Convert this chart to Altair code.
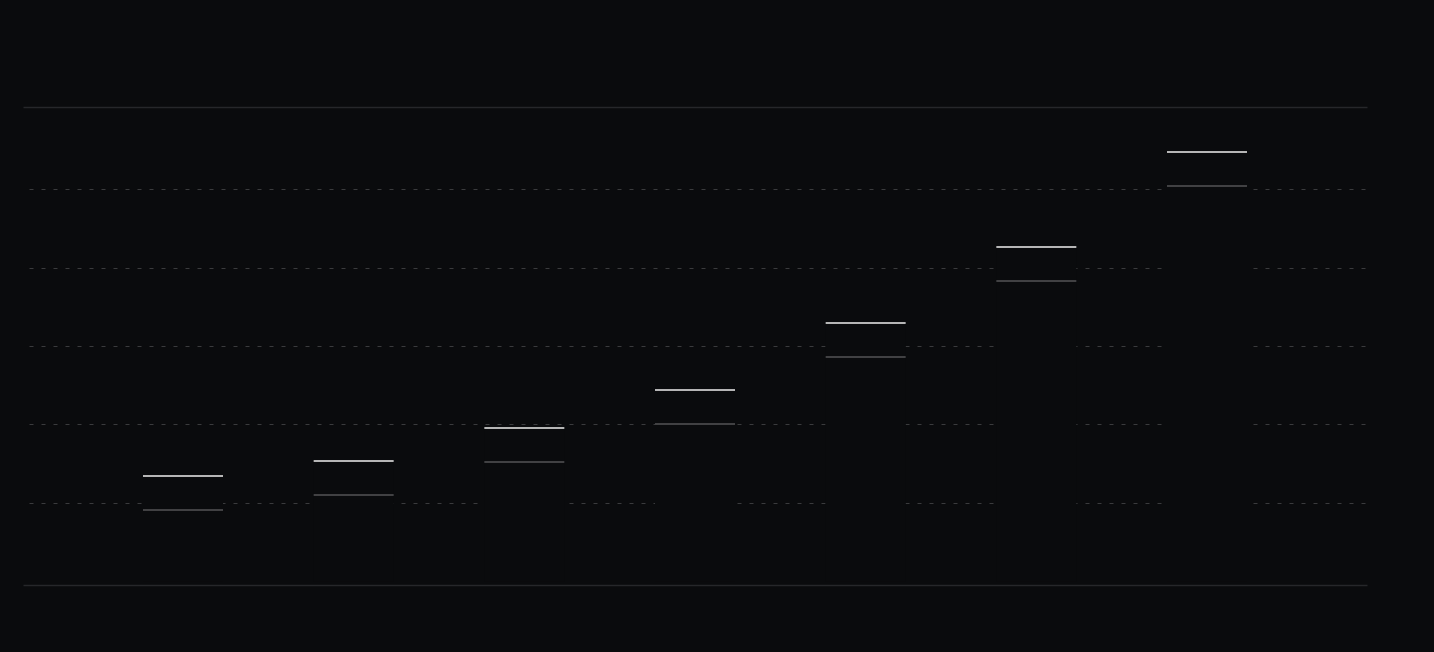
import altair as alt
import jinja2
import pandas as pd

# values (no labels shown, grid at 10..50)
periods = ["P1", "P2", "P3", "P4", "P5", "P6", "P7"]
current = [13.44, 15.35, 19.55, 24.39, 32.93, 42.61, 54.72]
previous = [9.11, 11.02, 15.22, 20.06, 28.60, 38.28, 50.38]
grid_values = [10, 20, 30, 40, 50]

bg = "#0a0b0d"

df = pd.DataFrame({"period": periods, "current": current, "previous": previous})

x_scale = alt.Scale(paddingInner=0.53125, paddingOuter=0.703125)
y_scale = alt.Scale(domain=[-0.45, 60.45], nice=False, zero=False)

hidden_x = alt.Axis(labels=False, ticks=False, grid=False, domain=False)

base = alt.Chart(df)

bars = base.mark_bar(color=bg).encode(
    x=alt.X(
        "period:N",
        sort=periods,
        scale=x_scale,
        title=None,
        axis=alt.Axis(
            orient="bottom", labels=False, ticks=False, grid=False,
            domainColor="#26272a", domainWidth=1.5,
        ),
    ),
    y=alt.Y(
        "current:Q",
        scale=y_scale,
        title=None,
        axis=alt.Axis(
            values=grid_values, labels=False, ticks=False, domain=False,
            grid=True, gridColor="#3a3b3d", gridWidth=1.2,
            gridDash=[4, 8], gridDashOffset=6,
        ),
    ),
)

prev_tick = base.mark_tick(color="#58595b", thickness=2, size=80).encode(
    x=alt.X("period:N", sort=periods, scale=x_scale, title=None, axis=hidden_x),
    y=alt.Y("previous:Q", scale=y_scale, title=None),
)

cur_tick = base.mark_tick(color="#ffffff", thickness=2, size=80).encode(
    x=alt.X(
        "period:N",
        sort=periods,
        scale=x_scale,
        title=None,
        axis=alt.Axis(
            orient="top", labels=False, ticks=False, grid=False,
            domainColor="#26272a", domainWidth=1.5,
        ),
    ),
    y=alt.Y("current:Q", scale=y_scale, title=None),
)

chart = alt.layer(bars, prev_tick, cur_tick).resolve_axis(
    x="independent"
).properties(
    width=1344,
    height=478,
    background=bg,
    padding={"left": 15, "top": 99, "right": 59, "bottom": 59},
    autosize=alt.AutoSizeParams(type="none"),
).configure_view(
    stroke=None
)

# same page as the standard template, with a dark body so the margin matches
page = jinja2.Template("""<!DOCTYPE html>
<html>
<head>
  <style>
    body { background: #0a0b0d; }
    #{{ output_div }}.vega-embed { width: 100%; display: flex; }
  </style>
  <script type="text/javascript" src="{{ base_url }}/vega@{{ vega_version }}"></script>
  <script type="text/javascript" src="{{ base_url }}/vega-lite@{{ vegalite_version }}"></script>
  <script type="text/javascript" src="{{ base_url }}/vega-embed@{{ vegaembed_version }}"></script>
</head>
<body>
  <div id="{{ output_div }}"></div>
  <script>
    (function(vegaEmbed) {
      var spec = {{ spec }};
      var embedOpt = {{ embed_options }};
      vegaEmbed("#{{ output_div }}", spec, embedOpt).catch(console.error);
    })(vegaEmbed);
  </script>
</body>
</html>
""")

chart.save("out.html", embed_options={"renderer": "svg", "actions": False}, template=page)
